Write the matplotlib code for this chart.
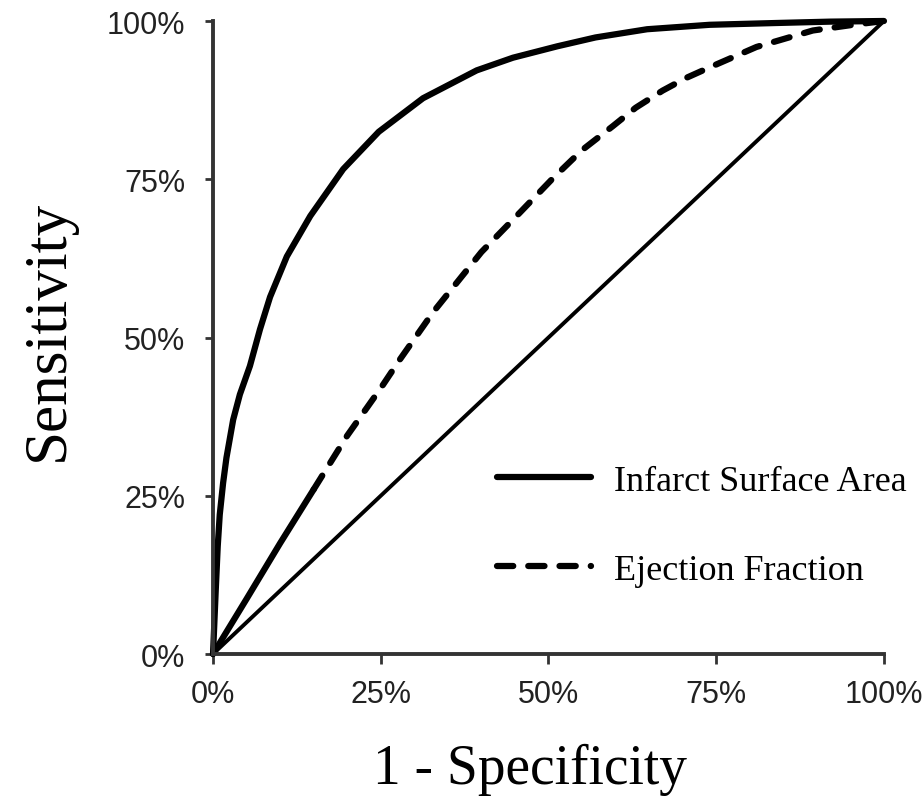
import matplotlib
matplotlib.use('Agg')
import matplotlib.pyplot as plt
from matplotlib.ticker import PercentFormatter

# Infarct Surface Area ROC curve (1 - specificity, sensitivity) in %
isa_x = [0, 0.4, 0.7, 1, 1.5, 2, 3, 4, 5.5, 7, 8.5, 11, 14.5, 19.4, 24.7, 31.3,
         39.3, 44.7, 51.3, 57, 64.7, 74, 84.5, 92, 100]
isa_y = [0, 10, 17, 22, 27, 31, 37, 41, 45.5, 51.3, 56.4, 62.8, 69.2, 76.6, 82.5,
         87.8, 92.2, 94.2, 96, 97.4, 98.7, 99.4, 99.7, 99.9, 100]

# Ejection Fraction ROC curve (solid near origin, dashed afterwards)
ef_x = [0, 5, 10, 15, 20, 25, 27.9, 32.8, 40, 45.8, 50.7, 55, 59.6, 63, 67,
        70.5, 74.5, 81, 89.4, 95.4, 100]
ef_y = [0, 8.7, 17.5, 26, 34.5, 42, 46.6, 54, 63.5, 69.8, 75.2, 79.6, 83.4,
        86.3, 89, 91, 92.9, 95.9, 98.5, 99.4, 100]
ef_split = 3  # index where the dashes start

# chance line
diag = [0, 100]

ticks = [0, 25, 50, 75, 100]

fig = plt.figure(figsize=(9.23, 8.03), dpi=100)
ax = fig.add_axes([0.2308, 0.1843, 0.7269, 0.7883])

ax.plot(diag, diag, color='black', linewidth=2.8, clip_on=False)
ax.plot(isa_x, isa_y, color='black', linewidth=4.5, clip_on=False,
        solid_capstyle='round', solid_joinstyle='round', label='Infarct Surface Area')
ax.plot(ef_x[:ef_split + 1], ef_y[:ef_split + 1], color='black', linewidth=4.5,
        clip_on=False, solid_capstyle='round')
ax.plot(ef_x[ef_split:], ef_y[ef_split:], color='black', linewidth=4.5,
        clip_on=False, linestyle=(0, (2.6, 2.4)), dash_capstyle='round',
        label='Ejection Fraction')

ax.set_xlim(0, 100)
ax.set_ylim(0, 100)
ax.set_xticks(ticks)
ax.set_yticks(ticks)
ax.xaxis.set_major_formatter(PercentFormatter(decimals=0))
ax.yaxis.set_major_formatter(PercentFormatter(decimals=0))

for s in ['top', 'right']:
    ax.spines[s].set_visible(False)
for s in ['left', 'bottom']:
    ax.spines[s].set_linewidth(2.8)
    ax.spines[s].set_color('#333333')

ax.tick_params(axis='both', direction='out', width=2, color='#333333',
               labelsize=22)
ax.tick_params(axis='y', length=6, pad=14)
ax.tick_params(axis='x', length=7, pad=11)
for lab in ax.get_xticklabels() + ax.get_yticklabels():
    lab.set_family('Liberation Sans')
    lab.set_color('#222222')

ax.set_xlabel('1 - Specificity', fontsize=40, family='Liberation Serif')
ax.set_ylabel('Sensitivity', fontsize=44, family='Liberation Serif')
ax.xaxis.set_label_coords(0.472, -0.14)
ax.yaxis.set_label_coords(-0.205, 0.513)

ax.legend(loc='center left', bbox_to_anchor=(0.423, 0.203), frameon=False,
          prop={'family': 'Liberation Serif', 'size': 26},
          handlelength=2.6, handletextpad=0.65, labelspacing=1.55,
          borderpad=0, borderaxespad=0)

fig.savefig('out.png', dpi=100)
